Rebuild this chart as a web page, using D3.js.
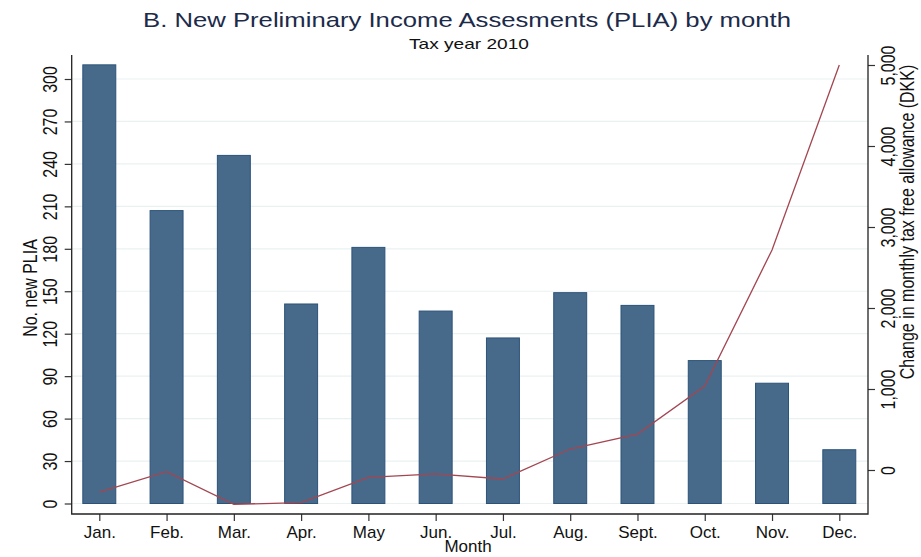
<!DOCTYPE html>
<html>
<head>
<meta charset="utf-8">
<script src="https://cdn.jsdelivr.net/npm/d3@7"></script>
<style>
  html, body { margin: 0; padding: 0; background: #fff; }
  svg { display: block; font-family: "Liberation Sans", Arial, sans-serif; }
</style>
</head>
<body>
<svg id="chart" width="921" height="557"></svg>
<script>
// Months of tax year 2010
const months = ["Jan.", "Feb.", "Mar.", "Apr.", "May", "Jun.", "Jul.", "Aug.", "Sept.", "Oct.", "Nov.", "Dec."];
// Number of new preliminary income assessments filed per month
const newPLIA = [310, 207, 246, 141, 181, 136, 117, 149, 140, 101, 85, 38];
// Change in monthly tax free allowance (DKK)
const allowanceChange = [-272, -21, -423, -404, -90, -49, -111, 259, 444, 1037, 2716, 5000];
// Axis tick values
const leftTicks = [0, 30, 60, 90, 120, 150, 180, 210, 240, 270, 300];
const rightTicks = [0, 1000, 2000, 3000, 4000, 5000];

const svg = d3.select("#chart");

const frame = { left: 71.7, right: 868, top: 55, bottom: 514 };

const x = d3.scaleLinear().domain([1, 12]).range([99.3, 839.3]);
const yLeft = d3.scaleLinear().domain([0, 300]).range([503.5, 79]);
const yRight = d3.scaleLinear().domain([0, 5000]).range([470, 65]);
const barW = (x(2) - x(1)) * 0.49;

// Glyphs in this figure are drawn slightly wide
const stretch = 1.22;

// Horizontal gridlines at left-axis ticks
svg.append("g")
  .selectAll("line")
  .data(leftTicks)
  .join("line")
  .attr("x1", frame.left)
  .attr("x2", frame.right)
  .attr("y1", d => yLeft(d))
  .attr("y2", d => yLeft(d))
  .attr("stroke", "#eaf1f1")
  .attr("stroke-width", 1.2);

// Bars
svg.append("g")
  .selectAll("rect")
  .data(newPLIA)
  .join("rect")
  .attr("x", (d, i) => x(i + 1) - barW / 2)
  .attr("y", d => yLeft(d))
  .attr("width", barW)
  .attr("height", d => yLeft(0) - yLeft(d))
  .attr("fill", "#476a8b")
  .attr("stroke", "#2b5379")
  .attr("stroke-width", 1);

// Allowance line
const line = d3.line()
  .x((d, i) => x(i + 1))
  .y(d => yRight(d));

svg.append("path")
  .datum(allowanceChange)
  .attr("d", line)
  .attr("fill", "none")
  .attr("stroke", "#a34651")
  .attr("stroke-width", 1.3);

// Axes
const leftAxis = d3.axisLeft(yLeft).tickValues(leftTicks).tickSize(7).tickSizeOuter(0);
const rightAxis = d3.axisRight(yRight).tickValues(rightTicks).tickSize(7).tickSizeOuter(0)
  .tickFormat(d3.format(","));
const bottomAxis = d3.axisBottom(x).tickValues(d3.range(1, 13)).tickSize(7).tickSizeOuter(0)
  .tickFormat(d => months[d - 1]);

function styleAxis(g) {
  g.select(".domain").remove();
  g.selectAll(".tick line").attr("stroke", "#333").attr("stroke-width", 1.2);
  g.selectAll(".tick text").attr("fill", "#111").attr("font-size", 16);
}

const gl = svg.append("g").attr("transform", `translate(${frame.left},0)`).call(leftAxis).call(styleAxis);
gl.selectAll(".tick text")
  .attr("x", 0).attr("dy", 0)
  .attr("transform", `translate(-21,0) scale(${stretch},1) rotate(-90)`)
  .attr("text-anchor", "middle")
  .attr("dominant-baseline", "central");

const gr = svg.append("g").attr("transform", `translate(${frame.right},0)`).call(rightAxis).call(styleAxis);
gr.selectAll(".tick text")
  .attr("x", 0).attr("dy", 0)
  .attr("transform", `translate(20,0) scale(${stretch},1) rotate(-90)`)
  .attr("text-anchor", "middle")
  .attr("dominant-baseline", "central");

const gb = svg.append("g").attr("transform", `translate(0,${frame.bottom})`).call(bottomAxis).call(styleAxis);
gb.selectAll(".tick text")
  .attr("font-size", 17)
  .attr("y", 12).attr("dy", "0.71em");

// Axis lines
svg.append("path")
  .attr("d", `M${frame.left},${frame.top}V${frame.bottom}H${frame.right}V${frame.top}`)
  .attr("fill", "none")
  .attr("stroke", "#222")
  .attr("stroke-width", 1.3);

// Titles
svg.append("text")
  .attr("x", 467).attr("y", 27)
  .attr("text-anchor", "middle")
  .attr("font-size", 21)
  .attr("fill", "#1c2b4a")
  .attr("textLength", 648)
  .attr("lengthAdjust", "spacingAndGlyphs")
  .text("B. New Preliminary Income Assesments (PLIA) by month");

svg.append("text")
  .attr("x", 469).attr("y", 49)
  .attr("text-anchor", "middle")
  .attr("font-size", 15)
  .attr("fill", "#111")
  .attr("textLength", 120)
  .attr("lengthAdjust", "spacingAndGlyphs")
  .text("Tax year 2010");

svg.append("text")
  .attr("transform", `translate(30,288) scale(${stretch},1) rotate(-90)`)
  .attr("text-anchor", "middle")
  .attr("dominant-baseline", "central")
  .attr("font-size", 16)
  .attr("fill", "#111")
  .text("No. new PLIA");

svg.append("text")
  .attr("transform", `translate(907,222) scale(${stretch},1) rotate(-90)`)
  .attr("text-anchor", "middle")
  .attr("dominant-baseline", "central")
  .attr("font-size", 16)
  .attr("fill", "#111")
  .text("Change in monthly tax free allowance (DKK)");

svg.append("text")
  .attr("x", 468).attr("y", 552)
  .attr("text-anchor", "middle")
  .attr("font-size", 17)
  .attr("fill", "#111")
  .text("Month");
</script>
</body>
</html>
